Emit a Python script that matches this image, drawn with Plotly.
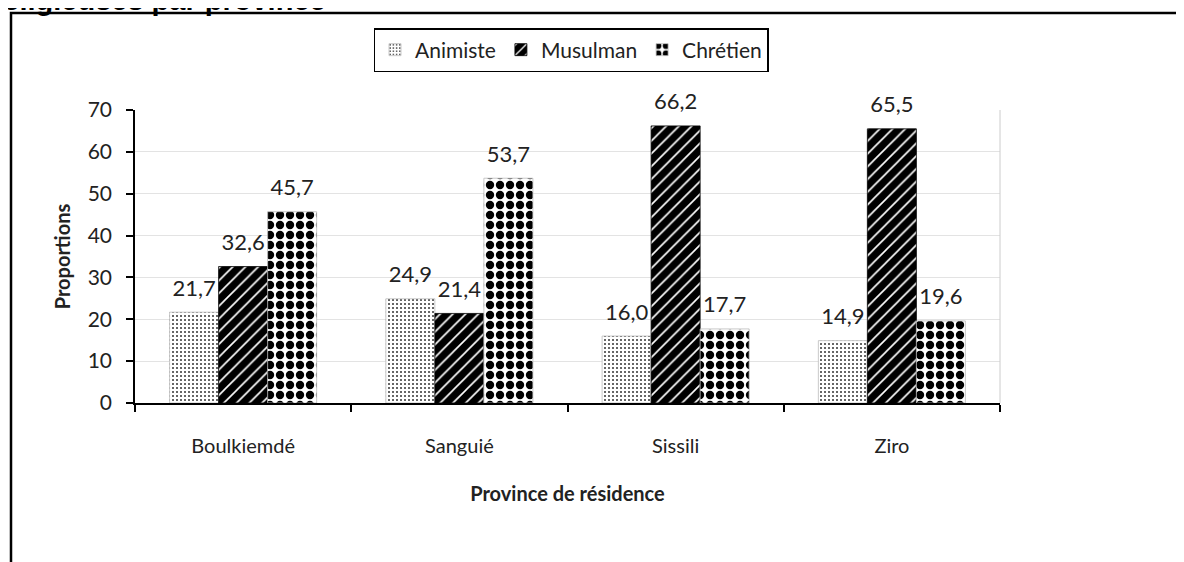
import plotly.graph_objects as go

provinces = ["Boulkiemdé", "Sanguié", "Sissili", "Ziro"]
animiste = [21.7, 24.9, 16.0, 14.9]
musulman = [32.6, 21.4, 66.2, 65.5]
chretien = [45.7, 53.7, 17.7, 19.6]
y_ticks = [0, 10, 20, 30, 40, 50, 60, 70]

FONT = "Lato"

# page is offset by the 8px body margin, so geometry is given in page pixels and shifted
OFF = 8
W, H = 1184, 562
PL, PR, PT, PB = 135, 1000, 110, 403   # plot area in page pixels
L, T = PL - OFF, PT - OFF
R = W - (PR - OFF)
B = H - (PB - OFF)
pw, ph = W - L - R, H - T - B

def px2x(px):   # page px -> paper x
    return (px - OFF - L) / pw

def py2y(py):   # page px -> paper y
    return (H - B - (py - OFF)) / ph

series = [
    ("Animiste", animiste,
     dict(color="white",
          pattern=dict(shape=".", fgcolor="#333333", bgcolor="white", size=4, solidity=0.2, fgopacity=1),
          line=dict(color="#bbbbbb", width=0.8))),
    ("Musulman", musulman,
     dict(color="black",
          pattern=dict(shape="/", fgcolor="white", bgcolor="black", size=9, solidity=0.18, fgopacity=1),
          line=dict(color="black", width=0.8))),
    ("Chrétien", chretien,
     dict(color="white",
          pattern=dict(shape=".", fgcolor="black", bgcolor="white", size=10, solidity=0.55, fgopacity=1),
          line=dict(color="#bbbbbb", width=0.8))),
]

fig = go.Figure()
for name, vals, marker in series:
    fig.add_bar(name=name, x=provinces, y=vals, marker=marker)
# value labels, grouped the same way as the bars
for name, vals, _ in series:
    fig.add_scatter(x=provinces, y=vals, mode="markers+text", texttemplate="%{y:.1f}",
                    textposition="top center", showlegend=False, hoverinfo="skip",
                    marker=dict(size=16, color="rgba(0,0,0,0)"), cliponaxis=False,
                    textfont=dict(family=FONT, size=22, color="#222"))

fig.update_layout(
    width=W, height=H,
    margin=dict(l=L, r=R, t=T, b=B, autoexpand=False),
    paper_bgcolor="white", plot_bgcolor="white",
    separators=", ",
    barmode="group", bargap=0.32, bargroupgap=0,
    scattermode="group", scattergap=0.32,
    font=dict(family=FONT, color="#222"),
    legend=dict(orientation="h", x=px2x(571), y=py2y(28), xanchor="center", yanchor="top",
                bordercolor="black", borderwidth=1.5, font=dict(size=21, family=FONT),
                itemwidth=30, tracegroupgap=0),
    showlegend=True,
    xaxis=dict(showline=True, linecolor="black", linewidth=1.5, ticks="outside",
               tickson="boundaries", ticklen=7, tickcolor="black", tickwidth=1.5,
               tickfont=dict(size=20, family=FONT), ticklabelstandoff=24, automargin=False,
               title=dict(text="<b>Province de résidence</b>", font=dict(size=20, family=FONT),
                          standoff=31)),
    yaxis=dict(range=[0, 70], tickvals=y_ticks, showline=True, linecolor="black", linewidth=1.5,
               ticks="outside", ticklen=7, tickcolor="black", tickwidth=1.5,
               showgrid=True, gridcolor="#e3e3e3", gridwidth=1, zeroline=False,
               tickfont=dict(size=21, family=FONT), ticklabelstandoff=10, automargin=False,
               title=dict(text="<b>Proportions</b>", font=dict(size=20, family=FONT), standoff=12)),
)

# plot-area right border (light gray)
fig.add_shape(type="line", xref="paper", yref="paper", x0=1, x1=1, y0=0, y1=1,
              line=dict(color="#cccccc", width=1))
# outer frame
fig.add_shape(type="rect", xref="paper", yref="paper",
              x0=px2x(11), x1=px2x(1300), y0=py2y(700), y1=py2y(13),
              line=dict(color="black", width=2.5), fillcolor="rgba(0,0,0,0)", layer="above")
# clipped title at top
fig.add_annotation(text="<b>religieuses par province</b>", xref="paper", yref="paper",
                   x=px2x(-10), y=py2y(18), xanchor="left", yanchor="bottom", showarrow=False,
                   font=dict(family="Liberation Sans", size=29, color="black"))

fig.write_html("out.html")
